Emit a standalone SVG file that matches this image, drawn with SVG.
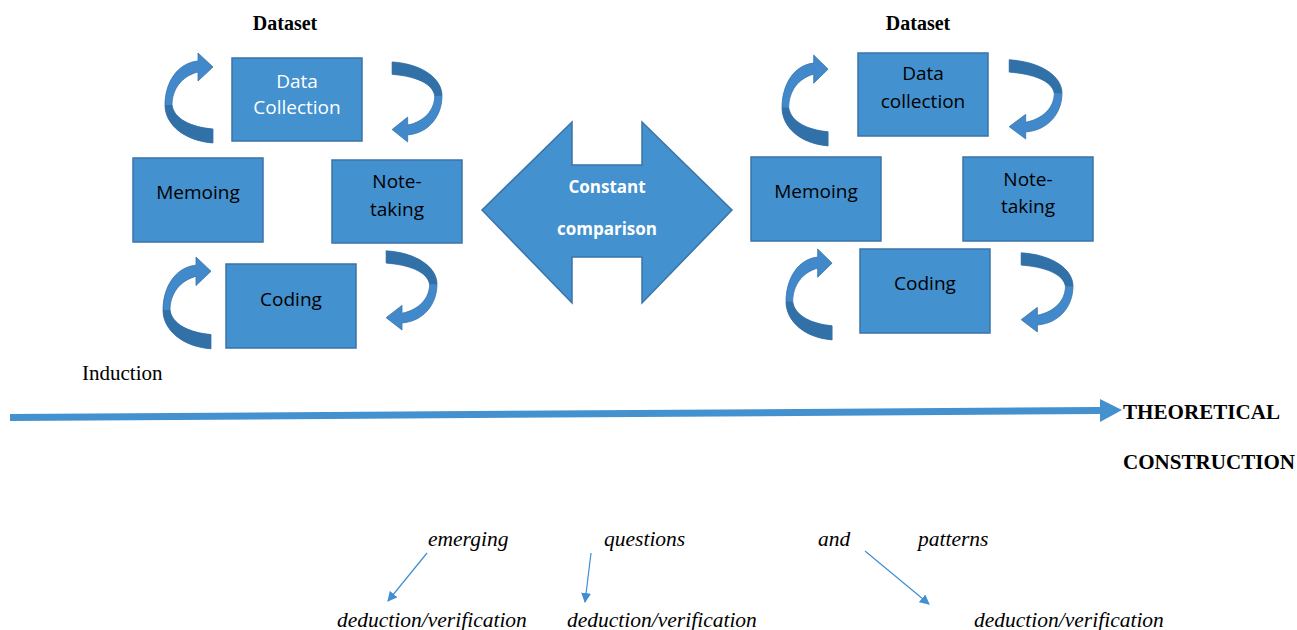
<svg xmlns="http://www.w3.org/2000/svg" xmlns:xlink="http://www.w3.org/1999/xlink" width="1297" height="630" viewBox="0 0 1297 630">
  <style>
    .box { fill: #4391CF; stroke: #3A74A9; stroke-width: 1.5; }
    .bt { font-family: "Open Sans", "Liberation Sans", sans-serif; font-size: 19px; fill: #000; text-anchor: middle; }
    .bw { fill: #fff; }
    .ct { font-family: "Open Sans", "Liberation Sans", sans-serif; font-size: 17px; font-weight: bold; fill: #fff; text-anchor: middle; }
    .ser { font-family: "Liberation Serif", "Times New Roman", serif; fill: #000; }
    .hd { font-size: 20px; font-weight: bold; }
    .it { font-size: 21.5px; font-style: italic; }
    .thin { stroke: #3F8FD2; stroke-width: 1.2; fill: none; marker-end: url(#ah); }
  </style>
  <defs>
    <marker id="ah" viewBox="0 0 10 10" refX="9" refY="5" markerWidth="10" markerHeight="10" markerUnits="userSpaceOnUse" orient="auto">
      <path d="M0,0 L10,5 L0,10 Z" fill="#3F8FD2"/>
    </marker>
    <g id="carrow">
      <path d="M48,14 L33,0 L33,8 C12,10 0,30 0,52 C0,72 20,88 48,90 L48,76 C26,74 9,66 7,52 C7,36 17,23 33,19 L33,28 Z" fill="#4189CA" stroke="#3A74A9" stroke-width="0.8"/>
      <path d="M0,52 C0,72 20,88 48,90 L48,76 C26,74 9,66 7,52 Z" fill="#3270A8"/>
    </g>
  </defs>

  <!-- headings -->
  <text class="ser hd" x="285" y="30" text-anchor="middle">Dataset</text>
  <text class="ser hd" x="918" y="30" text-anchor="middle">Dataset</text>

  <!-- left cluster -->
  <g id="l-datacollection">
    <rect class="box" x="232" y="58" width="130" height="83"/>
    <text class="bt bw" x="297" y="88">Data</text>
    <text class="bt bw" x="297" y="114">Collection</text>
  </g>
  <g id="l-memoing">
    <rect class="box" x="133" y="158" width="130" height="84"/>
    <text class="bt" x="198" y="199">Memoing</text>
  </g>
  <g id="l-notetaking">
    <rect class="box" x="332" y="160" width="130" height="83"/>
    <text class="bt" x="397" y="188">Note-</text>
    <text class="bt" x="397" y="216">taking</text>
  </g>
  <g id="l-coding">
    <rect class="box" x="226" y="264" width="130" height="84"/>
    <text class="bt" x="291" y="306">Coding</text>
  </g>

  <!-- right cluster -->
  <g id="r-datacollection">
    <rect class="box" x="858" y="53" width="130" height="83"/>
    <text class="bt" x="923" y="80">Data</text>
    <text class="bt" x="923" y="108">collection</text>
  </g>
  <g id="r-memoing">
    <rect class="box" x="751" y="157" width="130" height="84"/>
    <text class="bt" x="816" y="198">Memoing</text>
  </g>
  <g id="r-notetaking">
    <rect class="box" x="963" y="157" width="130" height="84"/>
    <text class="bt" x="1028" y="186">Note-</text>
    <text class="bt" x="1028" y="213">taking</text>
  </g>
  <g id="r-coding">
    <rect class="box" x="860" y="249" width="130" height="84"/>
    <text class="bt" x="925" y="290">Coding</text>
  </g>

  <!-- constant comparison -->
  <g id="constant-comparison">
    <polygon points="482,210 572,122 572,165 642,165 642,122 732,210 642,303 642,257 572,257 572,303" fill="#4391CF" stroke="#3A74A9" stroke-width="1.5"/>
    <text class="ct" x="607" y="193">Constant</text>
    <text class="ct" x="607" y="235">comparison</text>
  </g>

  <!-- connectors -->
  <g id="connectors">
    <use xlink:href="#carrow" transform="translate(165,53)"/>
    <use xlink:href="#carrow" transform="translate(442,142) rotate(180) scale(1.04,0.89)"/>
    <use xlink:href="#carrow" transform="translate(163,257) scale(1,1.02)"/>
    <use xlink:href="#carrow" transform="translate(437,330) rotate(180) scale(1.06,0.88)"/>
    <use xlink:href="#carrow" transform="translate(782,55) scale(0.96,1.01)"/>
    <use xlink:href="#carrow" transform="translate(1062,139) rotate(180) scale(1.1,0.88)"/>
    <use xlink:href="#carrow" transform="translate(786,249) scale(0.96,1.01)"/>
    <use xlink:href="#carrow" transform="translate(1073,332) rotate(180) scale(1.08,0.88)"/>

    <polygon points="10,414 1100,407 1100,399 1122,410 1100,422 1100,414 10,421" fill="#4391CF"/>

    <line class="thin" x1="427" y1="553" x2="388" y2="601"/>
    <line class="thin" x1="591" y1="553" x2="585" y2="602"/>
    <line class="thin" x1="865" y1="551" x2="929" y2="604"/>
  </g>

  <!-- labels -->
  <text class="ser" x="82" y="380" font-size="21">Induction</text>
  <text class="ser hd" x="1123" y="419" textLength="157" lengthAdjust="spacingAndGlyphs">THEORETICAL</text>
  <text class="ser hd" x="1123" y="469" textLength="172" lengthAdjust="spacingAndGlyphs">CONSTRUCTION</text>

  <text class="ser it" x="428" y="546">emerging</text>
  <text class="ser it" x="604" y="546">questions</text>
  <text class="ser it" x="818" y="546">and</text>
  <text class="ser it" x="918" y="546">patterns</text>
  <text class="ser it" x="337" y="627">deduction/verification</text>
  <text class="ser it" x="567" y="627">deduction/verification</text>
  <text class="ser it" x="974" y="627">deduction/verification</text>
</svg>
